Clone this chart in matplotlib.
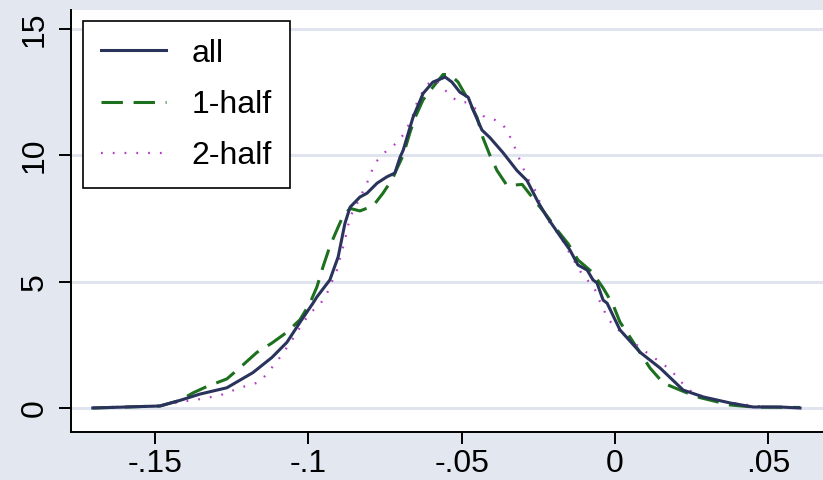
import numpy as np
import matplotlib.pyplot as plt
from matplotlib import rc

rc('font', family='Liberation Sans', size=23)

# kernel density estimates: whole sample and the two halves
x_all = [-0.1703, -0.1484, -0.1419, -0.1354, -0.1266, -0.1181, -0.1119, -0.1070,
         -0.1027, -0.0985, -0.0972, -0.0930, -0.0903, -0.0881, -0.0864, -0.0832,
         -0.0809, -0.0776, -0.0744, -0.0718, -0.0701, -0.0691, -0.0659, -0.0626,
         -0.0594, -0.0554, -0.0532, -0.0506, -0.0479, -0.0463, -0.0434, -0.0408,
         -0.0365, -0.0320, -0.0287, -0.0251, -0.0222, -0.0179, -0.0147, -0.0121,
         -0.0091, -0.0072, -0.0059, -0.0039, -0.0026, 0.0016, 0.0082, 0.0147,
         0.0222, 0.0287, 0.0375, 0.0450, 0.0538, 0.0603]
y_all = [0.0, 0.08, 0.30, 0.55, 0.80, 1.40, 2.00, 2.60,
         3.40, 4.15, 4.40, 5.07, 5.98, 7.30, 7.95, 8.35,
         8.50, 8.90, 9.15, 9.30, 9.93, 10.2, 11.5, 12.45,
         12.9, 13.1, 12.9, 12.5, 12.3, 11.8, 11.0, 10.7,
         10.1, 9.4, 9.0, 8.15, 7.56, 6.8, 6.25, 5.66,
         5.46, 5.07, 4.95, 4.27, 4.15, 3.09, 2.2, 1.58,
         0.71, 0.44, 0.2, 0.04, 0.04, 0.0]

x_h1 = [-0.1703, -0.1484, -0.1419, -0.1376, -0.1331, -0.1266, -0.1223, -0.1168,
        -0.1119, -0.1070, -0.1027, -0.0995, -0.0972, -0.0952, -0.0930, -0.0907,
        -0.0887, -0.0864, -0.0832, -0.0789, -0.0757, -0.0724, -0.0718, -0.0691,
        -0.0669, -0.0652, -0.0626, -0.0594, -0.0561, -0.0538, -0.0512, -0.0479,
        -0.0450, -0.0431, -0.0408, -0.0385, -0.0352, -0.0303, -0.0261, -0.0222,
        -0.0186, -0.0153, -0.0121, -0.0075, -0.0039, -0.0007, 0.0016, 0.0049,
        0.0082, 0.0114, 0.0157, 0.0212, 0.0267, 0.0375, 0.0450, 0.0603]
y_h1 = [0.0, 0.08, 0.30, 0.60, 0.85, 1.15, 1.60, 2.20,
        2.57, 3.00, 3.50, 4.15, 4.80, 5.60, 6.40, 7.05,
        7.60, 7.90, 7.80, 8.00, 8.50, 9.10, 9.30, 10.0,
        10.9, 11.5, 12.2, 12.7, 13.2, 13.2, 12.9, 12.2,
        11.5, 10.7, 10.0, 9.4, 8.8, 8.85, 8.2, 7.6,
        7.0, 6.5, 5.86, 5.38, 4.75, 4.10, 3.40, 2.80,
        2.18, 1.58, 0.99, 0.71, 0.44, 0.12, 0.04, 0.02]

x_h2 = [-0.1703, -0.1484, -0.1419, -0.1354, -0.1288, -0.1223, -0.1158, -0.1119,
        -0.1093, -0.1060, -0.1053, -0.1018, -0.0995, -0.0962, -0.0939, -0.0907,
        -0.0881, -0.0864, -0.0841, -0.0809, -0.0783, -0.0744, -0.0711, -0.0685,
        -0.0662, -0.0643, -0.0613, -0.0587, -0.0548, -0.0532, -0.0506, -0.0483,
        -0.0450, -0.0424, -0.0391, -0.0365, -0.0349, -0.0333, -0.0320, -0.0310,
        -0.0300, -0.0277, -0.0254, -0.0245, -0.0212, -0.0179, -0.0147, -0.0108,
        -0.0082, -0.0065, -0.0049, -0.0026, -0.0007, 0.0039, 0.0091, 0.0147,
        0.0173, 0.0196, 0.0219, 0.0254, 0.0300, 0.0365, 0.0431, 0.0496, 0.0538]
y_h2 = [0.02, 0.08, 0.24, 0.35, 0.50, 0.80, 1.03, 1.60,
        2.00, 2.57, 2.70, 3.36, 3.76, 4.10, 4.55, 5.46,
        6.65, 7.56, 8.10, 8.90, 9.70, 10.2, 10.5, 10.9,
        11.5, 12.2, 12.8, 13.0, 12.5, 12.3, 12.1, 12.1,
        11.8, 11.5, 11.4, 11.2, 10.9, 10.5, 10.1, 9.8,
        9.5, 8.9, 8.5, 8.1, 7.3, 6.8, 6.1, 5.3,
        4.95, 4.67, 4.20, 3.60, 3.28, 2.80, 2.30, 1.82,
        1.58, 1.31, 0.99, 0.59, 0.40, 0.24, 0.12, 0.04, 0.02]

labels = ['all', '1-half', '2-half']
colors = ['#29335c', '#1d701d', '#b33cc4']
bg = '#e2e7f0'

fig = plt.figure(figsize=(8.23, 4.8), dpi=100, facecolor=bg)
ax = fig.add_axes([0.0863, 0.1, 0.9137, 0.879])
ax.set_facecolor('white')

ax.plot(x_all, y_all, color=colors[0], lw=2.2, label=labels[0], zorder=4)
ax.plot(x_h1, y_h1, color=colors[1], lw=2.2, dashes=(7, 3.5), label=labels[1], zorder=3)
ax.plot(x_h2, y_h2, color=colors[2], lw=1.6, dashes=(0.8, 4.5), label=labels[2], zorder=3)

ax.set_xlim(-0.1774, 0.0678)
ax.set_ylim(-0.95, 15.75)
ax.set_xticks([-0.15, -0.1, -0.05, 0, 0.05])
ax.set_xticklabels(['-.15', '-.1', '-.05', '0', '.05'])
ax.set_yticks([0, 5, 10, 15])
ax.set_yticklabels(['0', '5', '10', '15'], rotation=90, va='center')

ax.grid(axis='y', color='#dfe4ee', lw=2.2, zorder=0)
ax.set_axisbelow(True)
for s in ['top', 'right']:
    ax.spines[s].set_visible(False)
for s in ['left', 'bottom']:
    ax.spines[s].set_linewidth(1.4)
    ax.spines[s].set_color('black')
ax.tick_params(axis='both', length=8.5, width=1.4, direction='out')
ax.tick_params(axis='x', pad=4)
ax.tick_params(axis='y', pad=7)

leg = ax.legend(loc='upper left', bbox_to_anchor=(0.016, 0.974), borderaxespad=0,
                fancybox=False, framealpha=1, edgecolor='black',
                handlelength=2.05, handletextpad=0.8, labelspacing=0.66,
                borderpad=0.55)
leg.get_frame().set_linewidth(1.2)

fig.savefig('out.png', dpi=100, facecolor=bg)
